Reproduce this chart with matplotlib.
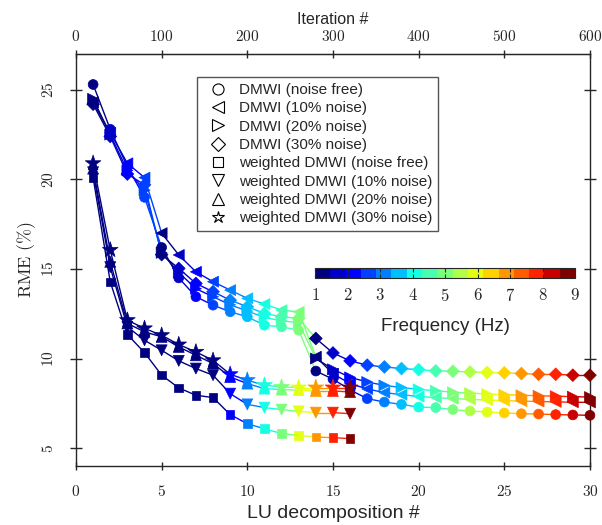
import numpy as np
import matplotlib
matplotlib.use('Agg')
import matplotlib.pyplot as plt
from matplotlib.collections import LineCollection
from matplotlib.lines import Line2D
from matplotlib.ticker import FuncFormatter
from matplotlib.colors import Normalize

plt.rcParams['mathtext.fontset'] = 'cm'
plt.rcParams['font.family'] = ['Liberation Sans', 'DejaVu Sans']

# LU decomposition index and frequency (Hz) used at each step
lu_dmwi = list(range(1, 31))
freq_dmwi = [1, 1.5, 2, 2.5,
             1, 1.5, 2, 2.5, 3, 3.5, 4, 4.5, 5,
             1, 1.5, 2, 2.5, 3, 3.5, 4, 4.5, 5, 5.5, 6, 6.5, 7, 7.5, 8, 8.5, 9]
lu_wdmwi = list(range(1, 17))
freq_wdmwi = [1, 1, 1, 1, 1, 1, 1, 1, 2, 3, 4, 5, 6, 7, 8, 9]

# RME (%) - DMWI
dmwi_free = [25.3, 22.8, 20.7, 19.0,
             16.2, 14.5, 13.45, 12.98, 12.61, 12.33, 11.86, 11.77, 11.58,
             9.3, 8.85, 8.25, 7.76, 7.57, 7.44, 7.29, 7.26, 7.15, 7.07, 7.01, 6.96, 6.92, 6.9, 6.87, 6.85, 6.83]
dmwi_10 = [24.3, 22.6, 20.9, 20.1,
           17.0, 15.78, 14.84, 14.29, 13.82, 13.36, 13.04, 12.7, 12.6,
           10.1, 9.15, 8.6, 8.3, 8.1, 7.98, 7.88, 7.82, 7.76, 7.72, 7.68, 7.65, 7.62, 7.6, 7.58, 7.56, 7.55]
dmwi_20 = [24.5, 22.5, 20.5, 19.4,
           15.9, 14.8, 13.9, 13.45, 13.0, 12.65, 12.3, 12.1, 12.0,
           10.0, 9.4, 8.95, 8.69, 8.5, 8.38, 8.28, 8.2, 8.12, 8.07, 8.02, 7.98, 7.95, 7.92, 7.9, 7.87, 7.85]
dmwi_30 = [24.2, 22.4, 20.3, 19.7,
           15.8, 15.03, 14.19, 13.73, 13.26, 12.89, 12.52, 12.33, 12.24,
           11.12, 10.31, 9.87, 9.63, 9.53, 9.44, 9.38, 9.31, 9.29, 9.25, 9.22, 9.2, 9.16, 9.12, 9.12, 9.07, 9.07]

# RME (%) - weighted DMWI
wdmwi_free = [20.1, 14.28, 11.34, 10.33, 9.07, 8.36, 7.95, 7.82, 6.87, 6.36, 6.08, 5.81, 5.71, 5.62, 5.58, 5.53]
wdmwi_10 = [20.4, 15.1, 11.77, 11.02, 10.46, 9.87, 9.44, 9.07, 8.04, 7.44, 7.26, 7.15, 7.05, 6.98, 6.98, 6.92]
wdmwi_20 = [20.6, 15.4, 11.96, 11.49, 11.21, 10.65, 10.18, 9.72, 8.97, 8.6, 8.32, 8.27, 8.23, 8.19, 8.19, 8.13]
wdmwi_30 = [20.9, 16.06, 12.14, 11.68, 11.3, 10.78, 10.37, 9.9, 9.12, 8.79, 8.51, 8.41, 8.38, 8.38, 8.38, 8.38]

labels = ['DMWI (noise free)', 'DMWI (10% noise)', 'DMWI (20% noise)', 'DMWI (30% noise)',
          'weighted DMWI (noise free)', 'weighted DMWI (10% noise)',
          'weighted DMWI (20% noise)', 'weighted DMWI (30% noise)']

cmap = plt.get_cmap('jet', 17)
norm = Normalize(1, 9)
txt = '#262626'


def draw_series(ax, lu, rme, freq, marker, size):
    pts = np.column_stack([lu, rme])
    segs = np.stack([pts[:-1], pts[1:]], axis=1)
    lc = LineCollection(segs, cmap=cmap, norm=norm, linewidths=1.0, zorder=2)
    lc.set_array(np.asarray(freq[:-1], dtype=float))
    ax.add_collection(lc)
    ax.scatter(lu, rme, c=freq, cmap=cmap, norm=norm, marker=marker, s=size,
               edgecolors='face', linewidths=0.5, zorder=3, clip_on=False)


fig = plt.figure(figsize=(6.02, 5.25), dpi=100)
ax = fig.add_axes([0.1262, 0.1124, 0.8538, 0.7847])

series = [
    (lu_dmwi, dmwi_free, freq_dmwi, 'o', 50),
    (lu_dmwi, dmwi_10, freq_dmwi, '<', 62),
    (lu_dmwi, dmwi_20, freq_dmwi, '>', 62),
    (lu_dmwi, dmwi_30, freq_dmwi, 'D', 42),
    (lu_wdmwi, wdmwi_free, freq_wdmwi, 's', 38),
    (lu_wdmwi, wdmwi_10, freq_wdmwi, 'v', 62),
    (lu_wdmwi, wdmwi_20, freq_wdmwi, '^', 62),
    (lu_wdmwi, wdmwi_30, freq_wdmwi, '*', 140),
]
for lu, rme, fr, mk, sz in series:
    draw_series(ax, lu, rme, fr, mk, sz)

ax.set_xlim(0, 30)
ax.set_ylim(4, 27)
ax.set_xticks(range(0, 31, 5))
ax.set_yticks(range(5, 26, 5))
cmfmt = FuncFormatter(lambda v, p: f'${v:g}$')
ax.xaxis.set_major_formatter(cmfmt)
ax.yaxis.set_major_formatter(cmfmt)
ax.tick_params(axis='x', direction='inout', length=6, width=1, pad=10,
               labelsize=11, labelcolor=txt, color=txt)
ax.tick_params(axis='y', direction='inout', length=9, width=1, pad=10,
               labelsize=11, labelcolor=txt, color=txt, right=True,
               labelrotation=90)
for lab in ax.get_yticklabels():
    lab.set_va('center')
for sp in ax.spines.values():
    sp.set_color(txt)
    sp.set_linewidth(1)

ax.set_xlabel('LU decomposition #', fontsize=14, color=txt, labelpad=4)
ax.set_ylabel(r'$\mathrm{RME\ (\%)}$', fontsize=13, color=txt, labelpad=2)

top = ax.secondary_xaxis('top', functions=(lambda x: x * 20, lambda x: x / 20))
top.set_xticks(range(0, 601, 100))
top.xaxis.set_major_formatter(cmfmt)
top.tick_params(direction='inout', length=6, width=1, pad=4,
                labelsize=11, labelcolor=txt, color=txt)
top.spines['top'].set_color(txt)
top.set_xlabel('Iteration #', fontsize=11.5, color=txt, labelpad=4)

handles = [Line2D([], [], linestyle='none', marker=m, color='k',
                  markerfacecolor='none', markersize=ms, markeredgewidth=0.8)
           for m, ms in zip(['o', '<', '>', 'D', 's', 'v', '^', '*'],
                            [8, 9, 9, 7, 6.5, 9, 9, 9])]
leg = ax.legend(handles, labels, loc='upper left', bbox_to_anchor=(0.2354, 0.944),
                borderaxespad=0, fontsize=11, labelspacing=0.28, borderpad=0.4,
                handlelength=2.0, handletextpad=0.35, fancybox=False,
                framealpha=1)
leg.get_frame().set_edgecolor('#555555')
leg.get_frame().set_linewidth(1)
for t in leg.get_texts():
    t.set_color(txt)

# colorbar
cax = fig.add_axes([0.5233, 0.4699, 0.4319, 0.019])
sm = plt.cm.ScalarMappable(norm=norm, cmap=cmap)
cb = fig.colorbar(sm, cax=cax, orientation='horizontal', ticks=range(1, 10))
cb.ax.xaxis.set_major_formatter(cmfmt)
cb.ax.tick_params(direction='in', top=True, bottom=True, length=3, width=0.8,
                  labelsize=12, labelcolor=txt, color=txt, pad=6)
cb.outline.set_edgecolor(txt)
cb.outline.set_linewidth(0.8)
cb.set_label('Frequency (Hz)', fontsize=13.5, color=txt, labelpad=10)

fig.savefig('out.png', dpi=100)
